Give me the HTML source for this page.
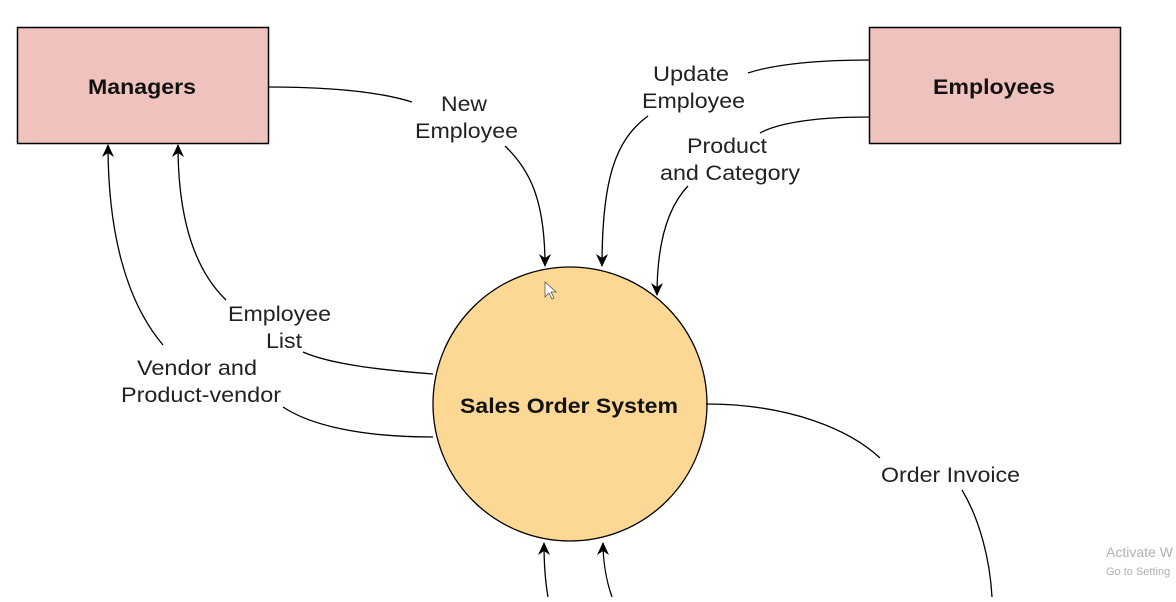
<!DOCTYPE html>
<html><head><style>
body{margin:0;width:1176px;height:597px;overflow:hidden;background:#fff;}
text{font-family:"Liberation Sans",sans-serif;}
</style></head><body>
<svg width="1176" height="597" viewBox="0 0 1176 597" xmlns="http://www.w3.org/2000/svg">
<defs><marker id="a" markerWidth="14" markerHeight="14" refX="12" refY="7" orient="auto" markerUnits="userSpaceOnUse"><path d="M0,1 L13,7 L0,13 L4,7 z" fill="#000"/></marker></defs>
<rect x="17.5" y="27.5" width="251" height="116" fill="#f0c2bd" stroke="#000" stroke-width="1.5"/>
<rect x="869.5" y="27.5" width="251" height="116" fill="#f0c2bd" stroke="#000" stroke-width="1.5"/>
<circle cx="570" cy="404" r="137" fill="#fdd894" stroke="#000" stroke-width="1.3"/>
<g fill="none" stroke="#000" stroke-width="1.3">
<path d="M268,87 C330,87 380,92 412,102"/>
<path d="M505,146 C530,170 545,200 545,266" marker-end="url(#a)"/>
<path d="M869,60 C820,60 775,64 748,73"/>
<path d="M648,116 C615,140 602,180 602,266" marker-end="url(#a)"/>
<path d="M869,117 C820,117 780,122 760,133"/>
<path d="M688,186 C665,210 657,250 657,295" marker-end="url(#a)"/>
<path d="M433,374 C380,370 330,364 303,352"/>
<path d="M226,300 C195,270 178,220 178,145" marker-end="url(#a)"/>
<path d="M433,437 C360,437 310,425 283,407"/>
<path d="M163,345 C125,300 108,230 108,145" marker-end="url(#a)"/>
<path d="M706,404 C790,404 850,430 880,458"/>
<path d="M962,490 C980,520 990,560 992,597"/>
<path d="M548,597 C545,580 544,560 544,543" marker-end="url(#a)"/>
<path d="M612,597 C606,580 603,560 603,543" marker-end="url(#a)"/>
</g>
<g font-size="21" font-weight="bold" fill="#111">
<text x="88" y="94" textLength="108" lengthAdjust="spacingAndGlyphs">Managers</text>
<text x="933" y="94" textLength="122" lengthAdjust="spacingAndGlyphs">Employees</text>
<text x="460" y="413" textLength="218" lengthAdjust="spacingAndGlyphs">Sales Order System</text>
</g>
<g font-size="21" fill="#222">
<text x="441" y="111" textLength="46" lengthAdjust="spacingAndGlyphs">New</text><text x="415" y="138" textLength="103" lengthAdjust="spacingAndGlyphs">Employee</text>
<text x="653" y="81" textLength="76" lengthAdjust="spacingAndGlyphs">Update</text><text x="642" y="108" textLength="103" lengthAdjust="spacingAndGlyphs">Employee</text>
<text x="687" y="153" textLength="80" lengthAdjust="spacingAndGlyphs">Product</text><text x="660" y="180" textLength="140" lengthAdjust="spacingAndGlyphs">and Category</text>
<text x="228" y="321" textLength="103" lengthAdjust="spacingAndGlyphs">Employee</text><text x="266" y="348" textLength="36" lengthAdjust="spacingAndGlyphs">List</text>
<text x="137" y="375" textLength="120" lengthAdjust="spacingAndGlyphs">Vendor and</text><text x="121" y="402" textLength="160" lengthAdjust="spacingAndGlyphs">Product-vendor</text>
<text x="881" y="482" textLength="139" lengthAdjust="spacingAndGlyphs">Order Invoice</text>
</g>
<text x="1106" y="557" font-size="14" fill="#b0b0b0">Activate W</text>
<text x="1106" y="575" font-size="11" fill="#b0b0b0">Go to Setting</text>
<path d="M545,282 L545,297 L549,293 L552,299 L554,298 L551,292 L556,292 z" fill="#fff" stroke="#555" stroke-width="0.8"/>
</svg>
</body></html>
